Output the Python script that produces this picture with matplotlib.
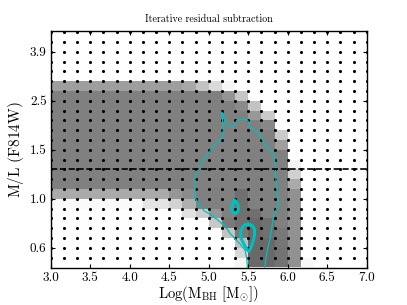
import numpy as np
import matplotlib
matplotlib.use("Agg")
import matplotlib.pyplot as plt

plt.rcParams['font.family'] = 'serif'
plt.rcParams['font.serif'] = ['cmr10', 'DejaVu Serif']
plt.rcParams['mathtext.fontset'] = 'cm'
plt.rcParams['axes.formatter.use_mathtext'] = True

# ---------------- data ----------------
title = "Iterative residual subtraction"
xlabel = r"$\mathrm{Log(M_{BH}\ [M_{\odot}])}$"
ylabel = r"$\mathrm{M/L\ (F814W)}$"

# model grid in log M_BH (cell edges / grid points)
logm_grid = np.linspace(3.0, 7.0, 25)
# M/L grid rows (index units), cell edges
ml_rows = np.arange(-1, 25)
ml_dot_rows = np.arange(0, 24)
ml_tick_rows = [1, 6, 11, 16, 21]
ml_tick_labels = ["0.6", "1.0", "1.5", "2.5", "3.9"]
x_ticks = [3.0, 3.5, 4.0, 4.5, 5.0, 5.5, 6.0, 6.5, 7.0]
true_ml_row = 9

W, B = 255, 128
D1, D2 = 112, 105
# grey level of each grid cell (bottom row first), 24 columns in log M_BH
shade = [
    [W]*14 + [245, D2, D2, 115, 145, 248] + [W]*4,             # row -1
    [W]*14 + [215, D2, D2, 115, 145] + [W]*5,                  # row 0
    [W]*14 + [190, D2, D2, 118, 145] + [W]*5,                  # row 1
    [W]*13 + [195, 120, D2, D1, 120, 145] + [W]*5,             # row 2
    [W]*12 + [200, 122, D1, D2, D1, B, 145] + [W]*5,           # row 3
    [W]*10 + [225, 205, 150, B, D1, D1, B, B, 145] + [W]*5,    # row 4
    [250]*7 + [228, 228, 210, 175, B, B, B, D1, B, B, B, 145] + [W]*5,  # row 5
    [170]*9 + [150, 140, B, B, B, D1, B, B, B, 145] + [W]*5,   # row 6
    [B]*18 + [170] + [W]*5,                                    # row 7
    [B]*18 + [208] + [W]*5,                                    # row 8
    [B]*18 + [242] + [W]*5,                                    # row 9
    [B]*18 + [W]*6,                                            # row 10
    [B]*17 + [158] + [W]*6,                                    # row 11
    [B]*17 + [202] + [W]*6,                                    # row 12
    [B]*16 + [135] + [W]*7,                                    # row 13
    [B]*15 + [152, 202] + [W]*7,                               # row 14
    [B]*14 + [138, 195] + [W]*8,                               # row 15
    [B]*13 + [148, 198] + [W]*9,                               # row 16
    [158]*10 + [168, 195, 218, 246] + [W]*10,                  # row 17
    [W]*24,                                                    # row 18
    [W]*24,                                                    # row 19
    [W]*24,                                                    # row 20
    [W]*24,                                                    # row 21
    [W]*24,                                                    # row 22
    [W]*24,                                                    # row 23
]

# outer (thin) confidence contour
outer_x = [5.491, 5.481, 5.460, 5.396, 5.333, 5.270, 5.207, 5.118, 5.036, 4.941,
           4.865, 4.827, 4.827, 4.827, 4.869, 4.932, 4.995, 5.058, 5.122, 5.181,
           5.185, 5.175, 5.165, 5.188, 5.200, 5.228, 5.291, 5.333, 5.355, 5.397,
           5.481, 5.502, 5.523, 5.565, 5.628, 5.675, 5.713, 5.776, 5.827, 5.840,
           5.852, 5.871, 5.884, 5.852, 5.821, 5.802, 5.776, 5.751, 5.726, 5.707]
outer_y = [-1.10, -0.07, 0.75, 1.41, 1.92, 2.48, 3.20, 3.81, 4.33, 4.79,
           5.45, 6.17, 7.19, 8.21, 9.10, 9.95, 10.63, 11.31, 11.82, 12.30,
           13.22, 14.04, 14.86, 14.55, 14.04, 13.53, 13.32, 13.53, 13.99, 14.09,
           14.11, 13.87, 13.35, 13.02, 12.68, 12.10, 11.48, 10.97, 10.46, 9.44,
           7.90, 6.37, 5.35, 4.84, 4.22, 3.20, 1.97, 1.05, 0.03, -1.09]

# inner (thick) contours
inner1_x = [5.327, 5.352, 5.371, 5.377, 5.365, 5.333, 5.302, 5.291, 5.302, 5.308, 5.327]
inner1_y = [5.81, 5.65, 5.35, 4.99, 4.63, 4.48, 4.63, 4.99, 5.35, 5.65, 5.81]
inner2_x = [5.498, 5.548, 5.580, 5.580, 5.561, 5.536, 5.511, 5.485, 5.447, 5.409,
            5.403, 5.428, 5.460, 5.498]
inner2_y = [3.40, 3.30, 2.89, 2.28, 1.66, 1.05, 0.64, 0.80, 1.36, 1.97,
            2.59, 3.10, 3.35, 3.40]

# ---------------- plot ----------------
fig = plt.figure(figsize=(4.07, 3.05), dpi=100)
ax = fig.add_axes([0.1246, 0.1213, 0.7764, 0.778])

ax.pcolormesh(logm_grid, ml_rows, np.array(shade), cmap='gray',
              vmin=0, vmax=255, shading='flat', zorder=1)

gx, gy = np.meshgrid(logm_grid, ml_dot_rows)
ax.scatter(gx.ravel(), gy.ravel(), s=5, c='k', marker='o',
           linewidths=0, zorder=2)

cyan = (0.0, 0.75, 0.75)
ax.plot(outer_x, outer_y, color=cyan, lw=0.9, zorder=3)
ax.plot(inner1_x, inner1_y, color=cyan, lw=2.2, zorder=3)
ax.plot(inner2_x, inner2_y, color=cyan, lw=2.2, zorder=3)

ax.axhline(true_ml_row, color='k', ls='--', lw=1.2, zorder=4)

ax.set_xlim(3.0, 7.0)
ax.set_ylim(-1.06, 23.15)
ax.set_xticks(x_ticks)
ax.set_xticklabels([f"{v:.1f}" for v in x_ticks])
ax.set_yticks(ml_tick_rows)
ax.set_yticklabels(ml_tick_labels)
ax.tick_params(direction='in', length=3, width=0.8, labelsize=9.5,
               top=True, right=True, pad=3)
for sp in ax.spines.values():
    sp.set_linewidth(1.0)

ax.set_xlabel(xlabel, fontsize=10.5, labelpad=0)
ax.set_ylabel(ylabel, fontsize=11, labelpad=3)
ax.set_title(title, fontsize=7.2, pad=6)

fig.savefig("out.png", dpi=100)
